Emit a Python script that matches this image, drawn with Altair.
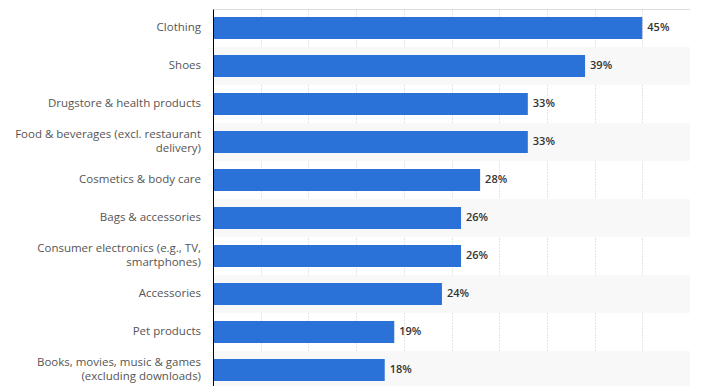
import altair as alt
import pandas as pd

categories = [
    "Clothing",
    "Shoes",
    "Drugstore & health products",
    "Food & beverages (excl. restaurant\ndelivery)",
    "Cosmetics & body care",
    "Bags & accessories",
    "Consumer electronics (e.g., TV,\nsmartphones)",
    "Accessories",
    "Pet products",
    "Books, movies, music & games\n(excluding downloads)",
]
values = [45, 39, 33, 33, 28, 26, 26, 24, 19, 18]

df = pd.DataFrame({"category": categories, "value": values})
df["idx"] = range(len(df))
df["label"] = df["value"].astype(str) + "%"
df["stripe"] = df["idx"] % 2 == 1
df["multi"] = df["category"].str.contains("\n")
df["xmax"] = 50

FONT = "Open Sans"

y = alt.Y("category:N", sort=categories,
          scale=alt.Scale(paddingInner=0, paddingOuter=0),
          axis=alt.Axis(labels=False, ticks=False, title=None, domain=True,
                        domainColor="#000000", domainWidth=1, grid=False))
x = alt.X("value:Q", scale=alt.Scale(domain=[0, 50], nice=False),
          axis=alt.Axis(values=list(range(0, 51, 5)), labels=False, ticks=False,
                        title=None, domain=False, grid=True, gridColor="#c8c8c8",
                        gridDash=[1, 2], gridWidth=1))

base = alt.Chart(df)

stripes = base.transform_filter("datum.stripe").mark_rect(color="#f8f8f8").encode(
    y=y,
    x=alt.X("zero:Q", scale=alt.Scale(domain=[0, 50], nice=False)),
    x2=alt.X2("xmax:Q"),
).transform_calculate(zero="0")

bars = base.mark_bar(color="#2a72d8", size=22).encode(y=y, x=x)

vals = base.mark_text(align="left", baseline="middle", dx=5, font=FONT,
                      fontSize=11, fontWeight=600, color="#333333").encode(
    y=y, x=alt.X("value:Q"), text="label:N")

cats_single = base.transform_filter("!datum.multi").mark_text(
    align="right", baseline="middle", font=FONT, fontSize=11.5,
    color="#555555").encode(y=y, x=alt.value(-12), text="category:N")

cats_multi = base.transform_filter("datum.multi").mark_text(
    align="right", baseline="middle", font=FONT, fontSize=11.5, dy=-7,
    color="#555555", lineBreak="\n", lineHeight=14).encode(
    y=y, x=alt.value(-12), text="category:N")

chart = alt.layer(stripes, bars, vals, cats_single, cats_multi).properties(
    width=477, height=380,
    padding={"left": 205, "top": 1, "right": 0, "bottom": 0},
    autosize="none",
).configure_view(stroke=None).configure(background="white")

chart.save("out.html", embed_options={"renderer": "svg", "actions": False})
